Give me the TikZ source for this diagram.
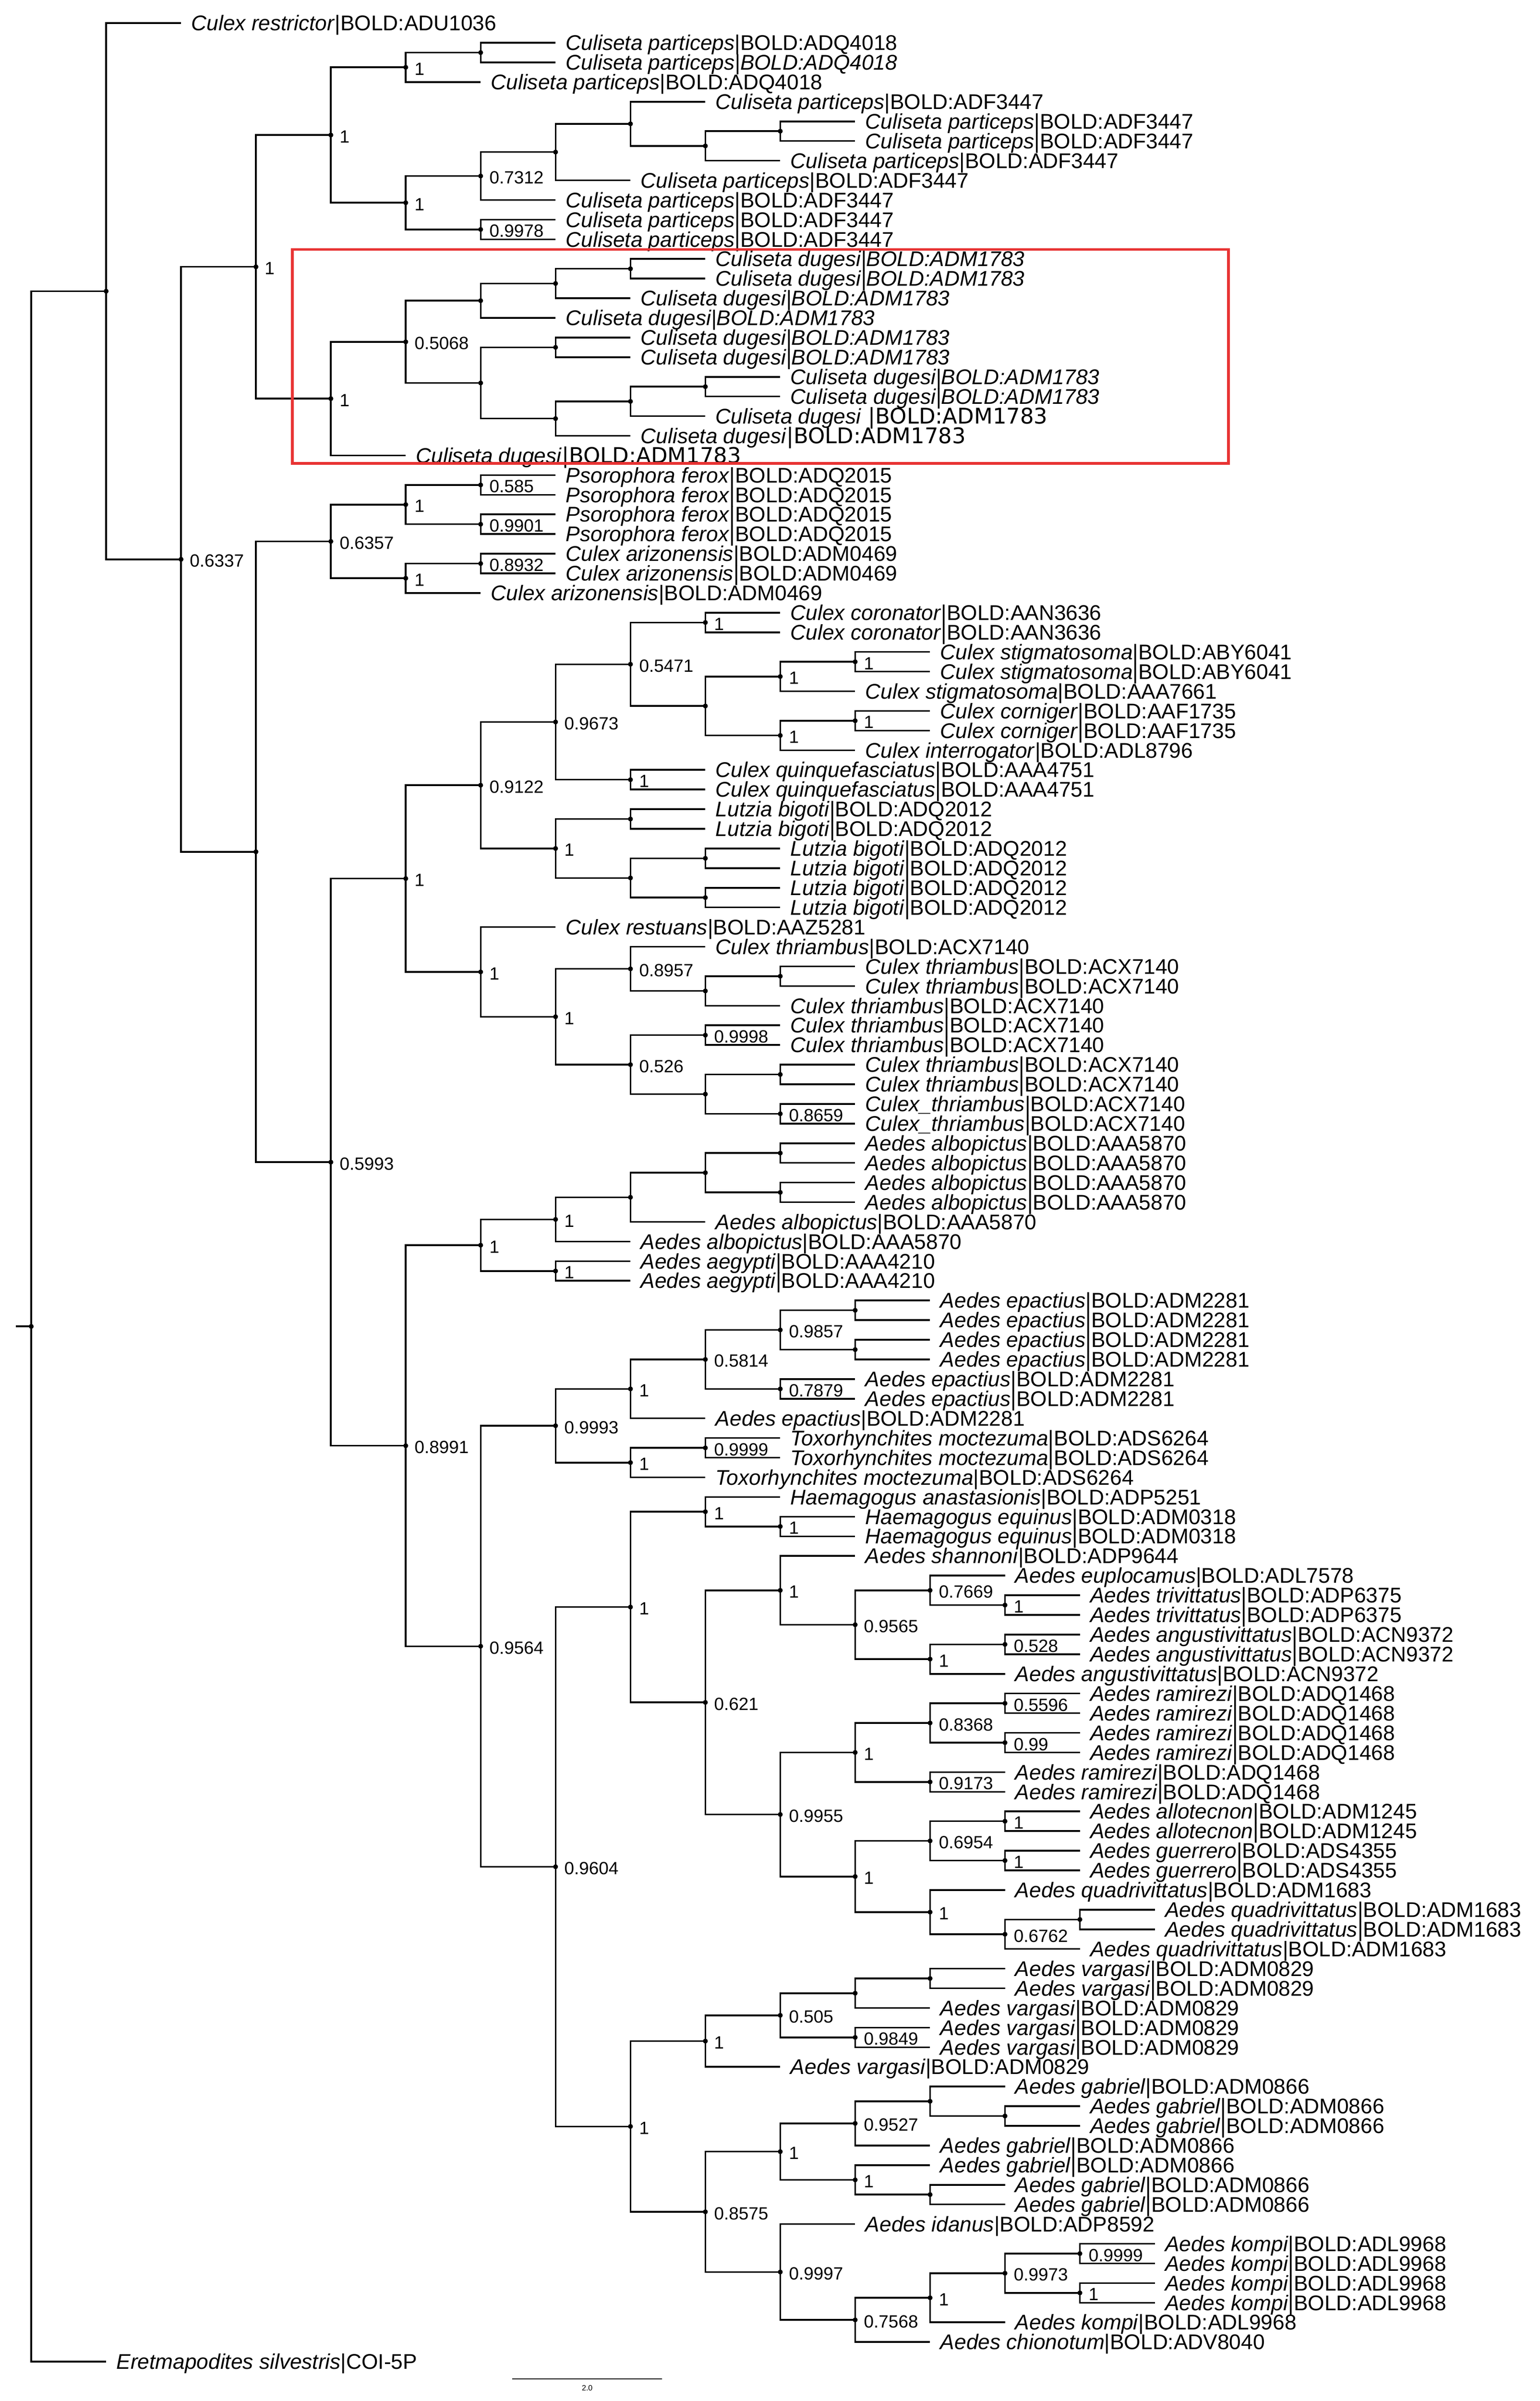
\documentclass[tikz,border=0pt]{standalone}
\usepackage{fontspec}
\setmainfont{Liberation Sans}
\newfontfamily\dvs{DejaVu Sans}
\usetikzlibrary{calc}
\tikzset{
  br/.style={line width=1.1pt,black},
  leaf/.style={anchor=base west,inner sep=0pt,xshift=6.5pt,yshift=-4.9pt,font=\fontsize{13.8}{14}\selectfont},
  sup/.style={anchor=base west,inner sep=0pt,xshift=5.5pt,yshift=-5pt,font=\fontsize{11.5}{12}\selectfont},
}
\newcommand\lf[3]{\coordinate (t#1) at ({20.3+48.65*#2},{15+(#1-1)*12.76});\node[leaf] (l#1) at (t#1) {#3};}
\newcommand\nd[6]{%
  \coordinate (tmp) at ($(#3)!.5!(#4)$);
  \coordinate (#1) at (X#2 |- tmp);
  \foreach \c in {#5} {\draw[br] (#1) |- (\c);}
  \fill (#1) circle (1.6pt);
  \if\relax\detokenize{#6}\relax\else\node[sup] (s#1) at (#1) {#6};\fi}
\newcommand\cp{\textit{Culiseta particeps}}
\newcommand\cd{\textit{Culiseta dugesi|BOLD:ADM1783}}
\begin{document}
\begin{tikzpicture}[x=1pt,y=-1pt]
\useasboundingbox[fill=white] (0,0) rectangle (1000,1559);
\foreach \k in {0,...,16} {\coordinate (X\k) at ({20.3+48.65*\k},0);}
% leaves
\lf{1}{2}{\textit{Culex restrictor}|BOLD:ADU1036}
\lf{2}{7}{\cp|BOLD:ADQ4018}
\lf{3}{7}{\textit{Culiseta particeps|BOLD:ADQ4018}}
\lf{4}{6}{\cp|BOLD:ADQ4018}
\lf{5}{9}{\cp|BOLD:ADF3447}
\lf{6}{11}{\cp|BOLD:ADF3447}
\lf{7}{11}{\cp|BOLD:ADF3447}
\lf{8}{10}{\cp|BOLD:ADF3447}
\lf{9}{8}{\cp|BOLD:ADF3447}
\lf{10}{7}{\cp|BOLD:ADF3447}
\lf{11}{7}{\cp|BOLD:ADF3447}
\lf{12}{7}{\cp|BOLD:ADF3447}
\lf{13}{9}{\cd}
\lf{14}{9}{\cd}
\lf{15}{8}{\cd}
\lf{16}{7}{\cd}
\lf{17}{8}{\cd}
\lf{18}{8}{\cd}
\lf{19}{10}{\cd}
\lf{20}{10}{\cd}
\lf{21}{9}{\textit{Culiseta dugesi}{\dvs\fontsize{14}{14}\selectfont\ |BOLD:ADM1783}}
\lf{22}{8}{\textit{Culiseta dugesi}{\dvs\fontsize{14}{14}\selectfont|BOLD:ADM1783}}
\lf{23}{5}{\textit{Culiseta dugesi}{\dvs\fontsize{14}{14}\selectfont|BOLD:ADM1783}}
\foreach \i in {24,...,27} {\lf{\i}{7}{\textit{Psorophora ferox}|BOLD:ADQ2015}}
\lf{28}{7}{\textit{Culex arizonensis}|BOLD:ADM0469}
\lf{29}{7}{\textit{Culex arizonensis}|BOLD:ADM0469}
\lf{30}{6}{\textit{Culex arizonensis}|BOLD:ADM0469}
\lf{31}{10}{\textit{Culex coronator}|BOLD:AAN3636}
\lf{32}{10}{\textit{Culex coronator}|BOLD:AAN3636}
\lf{33}{12}{\textit{Culex stigmatosoma}|BOLD:ABY6041}
\lf{34}{12}{\textit{Culex stigmatosoma}|BOLD:ABY6041}
\lf{35}{11}{\textit{Culex stigmatosoma}|BOLD:AAA7661}
\lf{36}{12}{\textit{Culex corniger}|BOLD:AAF1735}
\lf{37}{12}{\textit{Culex corniger}|BOLD:AAF1735}
\lf{38}{11}{\textit{Culex interrogator}|BOLD:ADL8796}
\lf{39}{9}{\textit{Culex quinquefasciatus}|BOLD:AAA4751}
\lf{40}{9}{\textit{Culex quinquefasciatus}|BOLD:AAA4751}
\lf{41}{9}{\textit{Lutzia bigoti}|BOLD:ADQ2012}
\lf{42}{9}{\textit{Lutzia bigoti}|BOLD:ADQ2012}
\foreach \i in {43,...,46} {\lf{\i}{10}{\textit{Lutzia bigoti}|BOLD:ADQ2012}}
\lf{47}{7}{\textit{Culex restuans}|BOLD:AAZ5281}
\lf{48}{9}{\textit{Culex thriambus}|BOLD:ACX7140}
\lf{49}{11}{\textit{Culex thriambus}|BOLD:ACX7140}
\lf{50}{11}{\textit{Culex thriambus}|BOLD:ACX7140}
\lf{51}{10}{\textit{Culex thriambus}|BOLD:ACX7140}
\lf{52}{10}{\textit{Culex thriambus}|BOLD:ACX7140}
\lf{53}{10}{\textit{Culex thriambus}|BOLD:ACX7140}
\lf{54}{11}{\textit{Culex thriambus}|BOLD:ACX7140}
\lf{55}{11}{\textit{Culex thriambus}|BOLD:ACX7140}
\lf{56}{11}{\textit{Culex\_thriambus}|BOLD:ACX7140}
\lf{57}{11}{\textit{Culex\_thriambus}|BOLD:ACX7140}
\foreach \i in {58,...,61} {\lf{\i}{11}{\textit{Aedes albopictus}|BOLD:AAA5870}}
\lf{62}{9}{\textit{Aedes albopictus}|BOLD:AAA5870}
\lf{63}{8}{\textit{Aedes albopictus}|BOLD:AAA5870}
\lf{64}{8}{\textit{Aedes aegypti}|BOLD:AAA4210}
\lf{65}{8}{\textit{Aedes aegypti}|BOLD:AAA4210}
\foreach \i in {66,...,69} {\lf{\i}{12}{\textit{Aedes epactius}|BOLD:ADM2281}}
\lf{70}{11}{\textit{Aedes epactius}|BOLD:ADM2281}
\lf{71}{11}{\textit{Aedes epactius}|BOLD:ADM2281}
\lf{72}{9}{\textit{Aedes epactius}|BOLD:ADM2281}
\lf{73}{10}{\textit{Toxorhynchites moctezuma}|BOLD:ADS6264}
\lf{74}{10}{\textit{Toxorhynchites moctezuma}|BOLD:ADS6264}
\lf{75}{9}{\textit{Toxorhynchites moctezuma}|BOLD:ADS6264}
\lf{76}{10}{\textit{Haemagogus anastasionis}|BOLD:ADP5251}
\lf{77}{11}{\textit{Haemagogus equinus}|BOLD:ADM0318}
\lf{78}{11}{\textit{Haemagogus equinus}|BOLD:ADM0318}
\lf{79}{11}{\textit{Aedes shannoni}|BOLD:ADP9644}
\lf{80}{13}{\textit{Aedes euplocamus}|BOLD:ADL7578}
\lf{81}{14}{\textit{Aedes trivittatus}|BOLD:ADP6375}
\lf{82}{14}{\textit{Aedes trivittatus}|BOLD:ADP6375}
\lf{83}{14}{\textit{Aedes angustivittatus}|BOLD:ACN9372}
\lf{84}{14}{\textit{Aedes angustivittatus}|BOLD:ACN9372}
\lf{85}{13}{\textit{Aedes angustivittatus}|BOLD:ACN9372}
\foreach \i in {86,...,89} {\lf{\i}{14}{\textit{Aedes ramirezi}|BOLD:ADQ1468}}
\lf{90}{13}{\textit{Aedes ramirezi}|BOLD:ADQ1468}
\lf{91}{13}{\textit{Aedes ramirezi}|BOLD:ADQ1468}
\lf{92}{14}{\textit{Aedes allotecnon}|BOLD:ADM1245}
\lf{93}{14}{\textit{Aedes allotecnon}|BOLD:ADM1245}
\lf{94}{14}{\textit{Aedes guerrero}|BOLD:ADS4355}
\lf{95}{14}{\textit{Aedes guerrero}|BOLD:ADS4355}
\lf{96}{13}{\textit{Aedes quadrivittatus}|BOLD:ADM1683}
\lf{97}{15}{\textit{Aedes quadrivittatus}|BOLD:ADM1683}
\lf{98}{15}{\textit{Aedes quadrivittatus}|BOLD:ADM1683}
\lf{99}{14}{\textit{Aedes quadrivittatus}|BOLD:ADM1683}
\lf{100}{13}{\textit{Aedes vargasi}|BOLD:ADM0829}
\lf{101}{13}{\textit{Aedes vargasi}|BOLD:ADM0829}
\lf{102}{12}{\textit{Aedes vargasi}|BOLD:ADM0829}
\lf{103}{12}{\textit{Aedes vargasi}|BOLD:ADM0829}
\lf{104}{12}{\textit{Aedes vargasi}|BOLD:ADM0829}
\lf{105}{10}{\textit{Aedes vargasi}|BOLD:ADM0829}
\lf{106}{13}{\textit{Aedes gabriel}|BOLD:ADM0866}
\lf{107}{14}{\textit{Aedes gabriel}|BOLD:ADM0866}
\lf{108}{14}{\textit{Aedes gabriel}|BOLD:ADM0866}
\lf{109}{12}{\textit{Aedes gabriel}|BOLD:ADM0866}
\lf{110}{12}{\textit{Aedes gabriel}|BOLD:ADM0866}
\lf{111}{13}{\textit{Aedes gabriel}|BOLD:ADM0866}
\lf{112}{13}{\textit{Aedes gabriel}|BOLD:ADM0866}
\lf{113}{11}{\textit{Aedes idanus}|BOLD:ADP8592}
\foreach \i in {114,...,117} {\lf{\i}{15}{\textit{Aedes kompi}|BOLD:ADL9968}}
\lf{118}{13}{\textit{Aedes kompi}|BOLD:ADL9968}
\lf{119}{12}{\textit{Aedes chionotum}|BOLD:ADV8040}
\lf{120}{1}{\textit{Eretmapodites silvestris}|COI-5P}
% internal nodes
\nd{n11}{6}{t2}{t3}{t2,t3}{}
\nd{n9}{5}{n11}{t4}{n11,t4}{1}
\nd{n17}{10}{t6}{t7}{t6,t7}{}
\nd{n16}{9}{n17}{t8}{n17,t8}{}
\nd{n15}{8}{t5}{n16}{t5,n16}{}
\nd{n14}{7}{n15}{t9}{n15,t9}{}
\nd{n12}{6}{n14}{t10}{n14,t10}{0.7312}
\nd{n13}{6}{t11}{t12}{t11,t12}{0.9978}
\nd{n10}{5}{n12}{n13}{n12,n13}{1}
\nd{n7}{4}{n9}{n10}{n9,n10}{1}
\nd{n22}{8}{t13}{t14}{t13,t14}{}
\nd{n21}{7}{n22}{t15}{n22,t15}{}
\nd{n19}{6}{n21}{t16}{n21,t16}{}
\nd{n23}{7}{t17}{t18}{t17,t18}{}
\nd{n26}{9}{t19}{t20}{t19,t20}{}
\nd{n25}{8}{n26}{t21}{n26,t21}{}
\nd{n24}{7}{n25}{t22}{n25,t22}{}
\nd{n20}{6}{n23}{n24}{n23,n24}{}
\nd{n18}{5}{n19}{n20}{n19,n20}{0.5068}
\nd{n8}{4}{n18}{t23}{n18,t23}{1}
\nd{n3}{3}{n7}{n8}{n7,n8}{1}
\nd{n29}{6}{t24}{t25}{t24,t25}{0.585}
\nd{n30}{6}{t26}{t27}{t26,t27}{0.9901}
\nd{n27}{5}{n29}{n30}{n29,n30}{1}
\nd{n31}{6}{t28}{t29}{t28,t29}{0.8932}
\nd{n28}{5}{n31}{t30}{n31,t30}{1}
\nd{n5}{4}{n27}{n28}{n27,n28}{0.6357}
\nd{n39}{9}{t31}{t32}{t31,t32}{1}
\nd{n43}{11}{t33}{t34}{t33,t34}{1}
\nd{n41}{10}{n43}{t35}{n43,t35}{1}
\nd{n44}{11}{t36}{t37}{t36,t37}{1}
\nd{n42}{10}{n44}{t38}{n44,t38}{1}
\nd{n40}{9}{n41}{n42}{n41,n42}{}
\nd{n37}{8}{n39}{n40}{n39,n40}{0.5471}
\nd{n38}{8}{t39}{t40}{t39,t40}{1}
\nd{n35}{7}{n37}{n38}{n37,n38}{0.9673}
\nd{n45}{8}{t41}{t42}{t41,t42}{}
\nd{n47}{9}{t43}{t44}{t43,t44}{}
\nd{n48}{9}{t45}{t46}{t45,t46}{}
\nd{n46}{8}{n47}{n48}{n47,n48}{}
\nd{n36}{7}{n45}{n46}{n45,n46}{1}
\nd{n33}{6}{n35}{n36}{n35,n36}{0.9122}
\nd{n53}{10}{t49}{t50}{t49,t50}{}
\nd{n52}{9}{n53}{t51}{n53,t51}{}
\nd{n50}{8}{t48}{n52}{t48,n52}{0.8957}
\nd{n54}{9}{t52}{t53}{t52,t53}{0.9998}
\nd{n56}{10}{t54}{t55}{t54,t55}{}
\nd{n57}{10}{t56}{t57}{t56,t57}{0.8659}
\nd{n55}{9}{n56}{n57}{n56,n57}{}
\nd{n51}{8}{n54}{n55}{n54,n55}{0.526}
\nd{n49}{7}{n50}{n51}{n50,n51}{1}
\nd{n34}{6}{t47}{n49}{t47,n49}{1}
\nd{n32}{5}{n33}{n34}{n33,n34}{1}
\nd{n66}{10}{t58}{t59}{t58,t59}{}
\nd{n67}{10}{t60}{t61}{t60,t61}{}
\nd{n65}{9}{n66}{n67}{n66,n67}{}
\nd{n64}{8}{n65}{t62}{n65,t62}{}
\nd{n62}{7}{n64}{t63}{n64,t63}{1}
\nd{n63}{7}{t64}{t65}{t64,t65}{1}
\nd{n60}{6}{n62}{n63}{n62,n63}{1}
\nd{n75}{11}{t66}{t67}{t66,t67}{}
\nd{n76}{11}{t68}{t69}{t68,t69}{}
\nd{n73}{10}{n75}{n76}{n75,n76}{0.9857}
\nd{n74}{10}{t70}{t71}{t70,t71}{0.7879}
\nd{n72}{9}{n73}{n74}{n73,n74}{0.5814}
\nd{n70}{8}{n72}{t72}{n72,t72}{1}
\nd{n77}{9}{t73}{t74}{t73,t74}{0.9999}
\nd{n71}{8}{n77}{t75}{n77,t75}{1}
\nd{n68}{7}{n70}{n71}{n70,n71}{0.9993}
\nd{n82}{10}{t77}{t78}{t77,t78}{1}
\nd{n80}{9}{t76}{n82}{t76,n82}{1}
\nd{n88}{13}{t81}{t82}{t81,t82}{1}
\nd{n86}{12}{t80}{n88}{t80,n88}{0.7669}
\nd{n89}{13}{t83}{t84}{t83,t84}{0.528}
\nd{n87}{12}{n89}{t85}{n89,t85}{1}
\nd{n85}{11}{n86}{n87}{n86,n87}{0.9565}
\nd{n83}{10}{t79}{n85}{t79,n85}{1}
\nd{n94}{13}{t86}{t87}{t86,t87}{0.5596}
\nd{n95}{13}{t88}{t89}{t88,t89}{0.99}
\nd{n92}{12}{n94}{n95}{n94,n95}{0.8368}
\nd{n93}{12}{t90}{t91}{t90,t91}{0.9173}
\nd{n90}{11}{n92}{n93}{n92,n93}{1}
\nd{n98}{13}{t92}{t93}{t92,t93}{1}
\nd{n99}{13}{t94}{t95}{t94,t95}{1}
\nd{n96}{12}{n98}{n99}{n98,n99}{0.6954}
\nd{n101}{14}{t97}{t98}{t97,t98}{}
\nd{n100}{13}{n101}{t99}{n101,t99}{0.6762}
\nd{n97}{12}{t96}{n100}{t96,n100}{1}
\nd{n91}{11}{n96}{n97}{n96,n97}{1}
\nd{n84}{10}{n90}{n91}{n90,n91}{0.9955}
\nd{n81}{9}{n83}{n84}{n83,n84}{0.621}
\nd{n78}{8}{n80}{n81}{n80,n81}{1}
\nd{n107}{12}{t100}{t101}{t100,t101}{}
\nd{n105}{11}{n107}{t102}{n107,t102}{}
\nd{n106}{11}{t103}{t104}{t103,t104}{0.9849}
\nd{n104}{10}{n105}{n106}{n105,n106}{0.505}
\nd{n102}{9}{n104}{t105}{n104,t105}{1}
\nd{n113}{13}{t107}{t108}{t107,t108}{}
\nd{n112}{12}{t106}{n113}{t106,n113}{}
\nd{n110}{11}{n112}{t109}{n112,t109}{0.9527}
\nd{n114}{12}{t111}{t112}{t111,t112}{}
\nd{n111}{11}{t110}{n114}{t110,n114}{1}
\nd{n108}{10}{n110}{n111}{n110,n111}{1}
\nd{n118}{14}{t114}{t115}{t114,t115}{0.9999}
\nd{n119}{14}{t116}{t117}{t116,t117}{1}
\nd{n117}{13}{n118}{n119}{n118,n119}{0.9973}
\nd{n116}{12}{n117}{t118}{n117,t118}{1}
\nd{n115}{11}{n116}{t119}{n116,t119}{0.7568}
\nd{n109}{10}{t113}{n115}{t113,n115}{0.9997}
\nd{n103}{9}{n108}{n109}{n108,n109}{0.8575}
\nd{n79}{8}{n102}{n103}{n102,n103}{1}
\nd{n69}{7}{n78}{n79}{n78,n79}{0.9604}
\nd{n61}{6}{n68}{n69}{n68,n69}{0.9564}
\nd{nA}{5}{n60}{n61}{n60,n61}{0.8991}
\nd{n6}{4}{n32}{nA}{n32,nA}{0.5993}
\nd{n4}{3}{n5}{n6}{n5,n6}{}
\nd{n2}{2}{n3}{n4}{n3,n4}{0.6337}
\nd{n1}{1}{t1}{n2}{t1,n2}{}
\nd{root}{0}{n1}{t120}{n1,t120}{}
\coordinate (stub) at ($(root)+(-10,0)$);
\draw[br] (stub) -- (root);
% highlight box
\draw[line width=1.8pt,color={rgb,255:red,232;green,52;blue,52}] (190,162) rectangle (798,301);
% scale bar
\coordinate (sb1) at (332.7,1544.6);
\coordinate (sb2) at (430.1,1544.6);
\draw[line width=0.8pt] (sb1) -- (sb2);
\node[font=\fontsize{5}{5}\selectfont,inner sep=0pt] (sbl) at ($(sb1)!.5!(sb2)+(0,6)$) {2.0};
\end{tikzpicture}
\end{document}
